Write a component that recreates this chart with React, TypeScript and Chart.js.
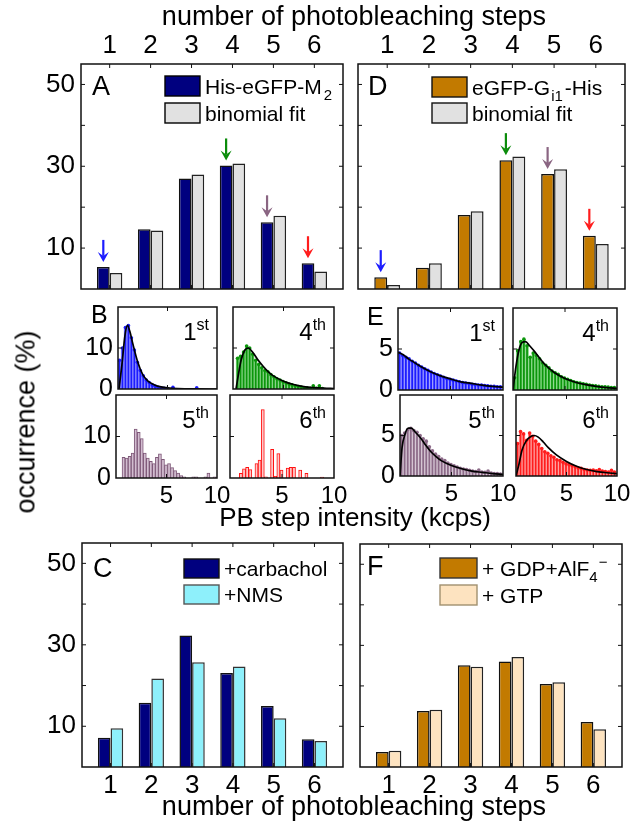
import React, { useEffect, useRef } from 'react';
import { Chart, registerables } from 'chart.js';

Chart.register(...registerables);

const FONT = '"Liberation Sans", Arial, Helvetica, sans-serif';
Chart.defaults.font.family = FONT;
Chart.defaults.color = '#000';

// ---------- step-count bar panels (A, D, C, F) ----------
const STEPS = [1, 2, 3, 4, 5, 6];
const BAR_Y_TICKS = [0, 10, 20, 30, 40, 50];
const BAR_Y_LABELS = [10, 30, 50];

const M2_MEASURED = [5.4, 14.6, 27.0, 30.2, 16.3, 6.3];
const M2_BINOMIAL = [3.9, 14.3, 28.0, 30.7, 17.9, 4.3];
const GI1_MEASURED = [2.9, 5.2, 18.1, 31.5, 28.1, 13.0];
const GI1_BINOMIAL = [1.0, 6.3, 19.0, 32.4, 29.3, 11.0];
const CARBACHOL = [7.2, 15.8, 32.3, 23.1, 15.0, 6.8];
const NMS = [9.5, 21.7, 25.7, 24.7, 12.0, 6.4];
const GDP_ALF4 = [3.7, 13.8, 25.1, 26.0, 20.5, 11.1];
const GTP = [4.0, 14.1, 24.7, 27.1, 20.9, 9.3];

const ARROW_STEPS = [1, 4, 5, 6];
const ARROW_COLORS = ['#1c1cff', '#0b8c0b', '#8a6582', '#ff1c1c'];

// ---------- PB step intensity histograms (B, E) ----------
const BIN_CENTERS = [0.15, 0.45, 0.75, 1.05, 1.35, 1.65, 1.95, 2.25, 2.55, 2.85, 3.15, 3.45, 3.75, 4.05, 4.35, 4.65, 4.95, 5.25, 5.55, 5.85, 6.15, 6.45, 6.75, 7.05, 7.35, 7.65, 7.95, 8.25, 8.55, 8.85, 9.15, 9.45, 9.75];
const HIST_X_TICKS = [5, 10];
const B_Y_TICKS = [0, 10, 20];
const E_Y_TICKS = [0, 5, 10];

const B_1ST = [7, 10, 15, 15.5, 12.5, 9.5, 6.5, 4.5, 3.2, 2.2, 1.6, 1.0, 0.7, 0.4, 0.3, 0.2, 0.1, 0, 0.4, 0, 0, 0, 0, 0, 0, 0, 0.3, 0, 0, 0, 0, 0, 0];
const B_4TH = [0, 7.5, 8, 9, 10.5, 10, 8.5, 7, 6, 5.2, 4.5, 4.2, 3.5, 3, 2.5, 2.2, 1.8, 1.5, 1.2, 1, 0.8, 0.6, 0.5, 0.3, 0.3, 0.2, 0.8, 0.2, 0.8, 0.1, 0, 0, 0];
const B_5TH = [0, 0, 5, 4.8, 5.2, 6, 11.8, 11, 9.5, 6, 4.8, 4, 3.5, 5, 5.8, 4.5, 3.2, 3.5, 2.5, 1.8, 1.2, 0.6, 0.3, 0, 0, 0.3, 0.3, 0, 0, 0.3, 1.2, 0, 0.3];
const B_6TH = [0, 0, 0, 1.1, 2.2, 2.6, 2, 0, 3.5, 4.3, 16.5, 0.3, 0, 6.9, 0.4, 5.9, 1.9, 0, 2.4, 2.6, 2.6, 0, 1.9, 0, 1.1, 0, 0, 0, 0, 0.2, 0, 0, 0];
const E_1ST = [4.5, 4.2, 4.0, 3.8, 3.5, 3.3, 3.0, 2.8, 2.6, 2.4, 2.2, 2.0, 1.85, 1.7, 1.55, 1.4, 1.3, 1.2, 1.1, 1.0, 0.9, 0.85, 0.8, 0.7, 0.65, 0.6, 0.6, 0.55, 0.5, 0.45, 0.45, 0.4, 0.4];
const E_4TH = [1.5, 4.8, 5.9, 6.2, 5.4, 4.0, 4.5, 4.2, 3.8, 3.3, 3.0, 2.7, 2.3, 2.1, 1.9, 1.6, 1.45, 1.3, 1.15, 1.0, 0.9, 0.85, 0.75, 0.7, 0.6, 0.55, 0.5, 0.45, 0.4, 0.4, 0.35, 0.3, 0.3];
const E_5TH = [5.0, 5.3, 5.7, 5.9, 5.6, 5.4, 5.0, 4.6, 4.3, 3.6, 3.1, 2.7, 2.4, 2.1, 1.9, 1.6, 1.4, 1.25, 1.1, 0.95, 0.85, 0.8, 0.7, 0.6, 0.55, 0.75, 0.5, 0.45, 0.6, 0.35, 0.3, 0.3, 0.25];
const E_6TH = [4.0, 5.5, 5.2, 4.4, 5.3, 4.9, 4.3, 3.9, 3.4, 3.0, 2.8, 2.5, 2.3, 2.0, 1.9, 1.7, 1.5, 1.4, 1.3, 1.15, 1.0, 0.95, 0.8, 0.75, 0.7, 0.75, 0.65, 0.8, 0.6, 0.55, 0.5, 0.7, 0.5];

const FIT_B_1ST_X = [0.1, 0.4, 0.7, 0.95, 1.2, 1.5, 2, 2.5, 3, 3.5, 4, 5, 6, 7, 8, 10];
const FIT_B_1ST_Y = [0, 6, 13, 15.5, 14, 11, 6.5, 3.5, 2, 1.2, 0.7, 0.3, 0.1, 0.05, 0.02, 0];
const FIT_B_4TH_X = [0.3, 0.5, 0.8, 1.1, 1.5, 2, 2.5, 3, 3.5, 4, 5, 6, 7, 8, 9, 10];
const FIT_B_4TH_Y = [0, 3, 7, 9.2, 10, 8.8, 7, 5.5, 4.2, 3.2, 1.9, 1.1, 0.6, 0.35, 0.2, 0.1];
const FIT_E_1ST_X = [0, 0.5, 1, 1.5, 2, 3, 4, 5, 6, 7, 8, 9, 10];
const FIT_E_1ST_Y = [4.6, 4.3, 3.8, 3.4, 3.0, 2.3, 1.75, 1.35, 1.0, 0.8, 0.6, 0.45, 0.35];
const FIT_E_4TH_X = [0, 0.3, 0.6, 0.9, 1.2, 1.6, 2, 2.5, 3, 3.5, 4, 5, 6, 7, 8, 9, 10];
const FIT_E_4TH_Y = [0, 3.0, 5.0, 5.8, 5.9, 5.4, 4.8, 4.0, 3.2, 2.6, 2.1, 1.4, 0.95, 0.65, 0.45, 0.3, 0.2];
const FIT_E_5TH_X = [0, 0.2, 0.5, 0.8, 1.1, 1.5, 2, 2.5, 3, 3.5, 4, 5, 6, 7, 8, 9, 10];
const FIT_E_5TH_Y = [0, 3.5, 5.2, 5.9, 5.9, 5.4, 4.7, 3.8, 3.0, 2.4, 1.9, 1.3, 0.9, 0.6, 0.45, 0.3, 0.2];
const FIT_E_6TH_X = [0, 0.3, 0.6, 1, 1.5, 1.8, 2.2, 2.7, 3.2, 4, 5, 6, 7, 8, 9, 10];
const FIT_E_6TH_Y = [0, 1.5, 3.2, 4.3, 4.9, 5.0, 4.8, 4.2, 3.5, 2.6, 1.8, 1.2, 0.8, 0.55, 0.4, 0.3];

// ---------- colours ----------
const NAVY = '#00007f';
const GRAY = '#e1e1e1';
const ORANGE = '#c27a00';
const CYAN = '#8ef0fb';
const PEACH = '#fde3c0';
const BLUE = '#1c1cff';
const GREEN = '#0b960b';
const MAUVE = '#8c6a88';
const RED = '#ff1c1c';

type Part = { t: string; sub?: boolean; sup?: boolean; gap?: number };

function drawRich(ctx: CanvasRenderingContext2D, parts: Part[], x: number, y: number, size: number, align: 'left' | 'right' = 'left', small = 0.7) {
  const fontOf = (p: Part) => `${p.sub || p.sup ? Math.round(size * small) : size}px ${FONT}`;
  let total = 0;
  for (const p of parts) {
    ctx.font = fontOf(p);
    total += (p.gap || 0) + ctx.measureText(p.t).width;
  }
  let cx = align === 'right' ? x - total : x;
  ctx.textAlign = 'left';
  ctx.textBaseline = 'alphabetic';
  for (const p of parts) {
    ctx.font = fontOf(p);
    cx += p.gap || 0;
    const dy = p.sub ? size * 0.3 : p.sup ? -size * 0.42 : 0;
    ctx.fillText(p.t, cx, y + dy);
    cx += ctx.measureText(p.t).width;
  }
}

function makeDecor(spec: any) {
  return {
    id: 'decor',
    afterDatasetsDraw(chart: any) {
      const ctx: CanvasRenderingContext2D = chart.ctx;
      const a = chart.chartArea;
      ctx.save();
      // arrows over selected bars
      if (spec.arrows) {
        const meta = chart.getDatasetMeta(0);
        ARROW_STEPS.forEach((st, k) => {
          const el = meta.data[STEPS.indexOf(st)];
          if (!el) return;
          const x = el.x;
          const tip = el.y - 5;
          const tail = tip - 22;
          ctx.strokeStyle = ARROW_COLORS[k];
          ctx.fillStyle = ARROW_COLORS[k];
          ctx.lineWidth = 2.2;
          ctx.beginPath();
          ctx.moveTo(x, tail);
          ctx.lineTo(x, tip - 6);
          ctx.stroke();
          ctx.beginPath();
          ctx.moveTo(x - 5.5, tip - 10);
          ctx.lineTo(x, tip);
          ctx.lineTo(x + 5.5, tip - 10);
          ctx.lineTo(x, tip - 6);
          ctx.closePath();
          ctx.fill();
        });
      }
      // frame
      ctx.strokeStyle = '#111';
      ctx.lineWidth = 1.5;
      ctx.strokeRect(a.left, a.top, a.right - a.left, a.bottom - a.top);
      // inward ticks
      const len = spec.tickLen || 4;
      ctx.lineWidth = 1;
      const xs = chart.scales.x;
      const ys = chart.scales.y;
      ctx.beginPath();
      (ys.ticks || []).forEach((t: any) => {
        const y = ys.getPixelForValue(t.value);
        if (y < a.top + 1 || y > a.bottom - 1) return;
        ctx.moveTo(a.left, y); ctx.lineTo(a.left + len, y);
        ctx.moveTo(a.right - len, y); ctx.lineTo(a.right, y);
      });
      (xs.ticks || []).forEach((t: any) => {
        const x = xs.getPixelForValue(t.value);
        if (x < a.left + 1 || x > a.right - 1) return;
        ctx.moveTo(x, a.top); ctx.lineTo(x, a.top + len);
        ctx.moveTo(x, a.bottom - len); ctx.lineTo(x, a.bottom);
      });
      ctx.stroke();
      ctx.fillStyle = '#000';
      // panel letter
      if (spec.letter) {
        ctx.font = `${spec.letter.size}px ${FONT}`;
        ctx.textAlign = 'left';
        ctx.textBaseline = 'alphabetic';
        ctx.fillText(spec.letter.text, a.left + spec.letter.dx, a.top + spec.letter.dy);
      }
      // legend
      if (spec.legend) {
        const L = spec.legend;
        L.items.forEach((it: any, i: number) => {
          const bx = a.left + L.dx;
          const by = a.top + L.dy + i * L.step;
          ctx.fillStyle = it.fill;
          ctx.fillRect(bx, by, L.w, L.h);
          ctx.strokeStyle = it.stroke;
          ctx.lineWidth = 1.4;
          ctx.strokeRect(bx, by, L.w, L.h);
          ctx.fillStyle = '#000';
          drawRich(ctx, it.parts, bx + L.w + 5, by + L.h / 2 + L.size * 0.36, L.size);
        });
      }
      // ordinal label (1st, 4th ...)
      if (spec.ordinal) {
        ctx.fillStyle = '#000';
        drawRich(ctx, [{ t: spec.ordinal[0] }, { t: spec.ordinal[1], sup: true }], a.right - 8, a.top + 33, 24, 'right', 0.68);
      }
      ctx.restore();
    },
  };
}

type Rect = { l: number; t: number; r: number; b: number };

function xAxis(o: { min: number; max: number; ticks: number[]; pos: 'top' | 'bottom'; show: boolean; size: number; font: number; pad: number }) {
  const ax: any = {
    type: 'linear',
    position: o.pos,
    min: o.min,
    max: o.max,
    offset: false,
    display: o.show,
    grid: { display: false, drawTicks: false, offset: false },
    border: { display: false },
    afterBuildTicks: (s: any) => { s.ticks = o.ticks.map((v) => ({ value: v })); },
    ticks: { font: { size: o.font, family: FONT }, color: '#000', padding: o.pad, maxRotation: 0, autoSkip: false, callback: (v: any) => String(v) },
  };
  if (o.show) ax.afterFit = (s: any) => { s.height = o.size; };
  return ax;
}

function yAxis(o: { min: number; max: number; ticks: number[]; labels: number[] | null; size: number; font: number; pad: number }) {
  const show = !!o.labels;
  const ax: any = {
    type: 'linear',
    min: o.min,
    max: o.max,
    display: show,
    grid: { display: false, drawTicks: false },
    border: { display: false },
    afterBuildTicks: (s: any) => { s.ticks = o.ticks.map((v) => ({ value: v })); },
    ticks: { font: { size: o.font, family: FONT }, color: '#000', padding: o.pad, autoSkip: false, callback: (v: any) => (o.labels && o.labels.includes(v) ? String(v) : '') },
  };
  if (show) ax.afterFit = (s: any) => { s.width = o.size; };
  return ax;
}

function baseOptions(m: Rect, yShown: boolean, xPos: 'top' | 'bottom', xShown: boolean) {
  return {
    animation: false,
    responsive: false,
    devicePixelRatio: 1,
    events: [],
    layout: {
      padding: {
        left: yShown ? 0 : m.l,
        right: m.r,
        top: xShown && xPos === 'top' ? 0 : m.t,
        bottom: xShown && xPos === 'bottom' ? 0 : m.b,
      },
    },
    plugins: { legend: { display: false }, tooltip: { enabled: false }, title: { display: false } },
  };
}

function barConfig(p: any) {
  const opts: any = baseOptions(p.m, p.yShown, p.xPos, true);
  opts.scales = {
    x: xAxis({ min: 0.3, max: 6.7, ticks: STEPS, pos: p.xPos, show: true, size: p.xPos === 'top' ? p.m.t : p.m.b, font: 26, pad: 3 }),
    y: yAxis({ min: 0, max: 55, ticks: BAR_Y_TICKS, labels: p.yShown ? BAR_Y_LABELS : null, size: p.m.l, font: 26, pad: 6 }),
  };
  const ds = (vals: number[], fill: string, stroke: string) => ({
    type: 'bar',
    data: STEPS.map((x, i) => ({ x, y: vals[i] })),
    backgroundColor: fill,
    borderColor: stroke,
    borderWidth: 1.5,
    categoryPercentage: 0.62,
    barPercentage: 1,
  });
  return {
    type: 'bar',
    data: { datasets: [ds(p.s1, p.c1, '#111'), ds(p.s2, p.c2, p.stroke2 || '#222')] },
    options: opts,
    plugins: [makeDecor(p)],
  };
}

function histConfig(p: any) {
  const opts: any = baseOptions(p.m, p.yShown, 'bottom', p.xShown);
  opts.scales = {
    x: xAxis({ min: 0, max: 10, ticks: HIST_X_TICKS, pos: 'bottom', show: p.xShown, size: p.m.b, font: 24, pad: 4 }),
    y: yAxis({ min: 0, max: p.ymax, ticks: p.yTicks, labels: p.yShown ? p.yTicks.slice(0, 2) : null, size: p.m.l, font: 25, pad: 5 }),
  };
  const datasets: any[] = [];
  if (p.fitX) {
    datasets.push({
      type: 'line', order: 0,
      data: p.fitX.map((x: number, i: number) => ({ x, y: p.fitY[i] })),
      borderColor: '#000', borderWidth: 1.7, pointRadius: 0, fill: false, cubicInterpolationMode: 'monotone',
    });
  }
  if (p.dots) {
    datasets.push({
      type: 'line', order: 1,
      data: BIN_CENTERS.map((x, i) => ({ x, y: p.bins[i] })).filter((d) => d.y > 0),
      showLine: false, pointRadius: 1.8, pointBackgroundColor: p.color, pointBorderWidth: 0,
    });
  }
  datasets.push({
    type: 'bar', order: 2,
    data: BIN_CENTERS.map((x, i) => ({ x, y: p.bins[i] })),
    backgroundColor: p.fill,
    borderColor: p.edge,
    borderWidth: p.edgeW || 1,
    categoryPercentage: 1,
    barPercentage: 1,
  });
  return { type: 'bar', data: { datasets }, options: opts, plugins: [makeDecor(p)] };
}

function ChartCanvas({ frame, m, config }: { frame: Rect; m: Rect; config: () => any }) {
  const ref = useRef<HTMLCanvasElement>(null);
  const w = frame.r - frame.l + m.l + m.r;
  const h = frame.b - frame.t + m.t + m.b;
  useEffect(() => {
    const chart = new Chart(ref.current as HTMLCanvasElement, config());
    return () => chart.destroy();
  }, []);
  return (
    <canvas
      ref={ref}
      width={w}
      height={h}
      style={{ position: 'absolute', left: frame.l - m.l, top: frame.t - m.t, width: w, height: h }}
    />
  );
}

const BAR_PANELS = [
  {
    key: 'A', frame: { l: 81, t: 64, r: 343, b: 289 }, m: { l: 60, t: 40, r: 4, b: 26 }, yShown: true, xPos: 'top',
    s1: M2_MEASURED, s2: M2_BINOMIAL, c1: NAVY, c2: GRAY, arrows: true,
    letter: { text: 'A', dx: 11, dy: 31, size: 27 },
    legend: { dx: 84, dy: 12, w: 35, h: 20, step: 27, size: 21, items: [
      { fill: NAVY, stroke: '#000', parts: [{ t: 'His-eGFP-M' }, { t: '2', sub: true, gap: 2 }] },
      { fill: GRAY, stroke: '#000', parts: [{ t: 'binomial fit' }] },
    ] },
  },
  {
    key: 'D', frame: { l: 358, t: 64, r: 625, b: 289 }, m: { l: 4, t: 40, r: 4, b: 4 }, yShown: false, xPos: 'top',
    s1: GI1_MEASURED, s2: GI1_BINOMIAL, c1: ORANGE, c2: GRAY, arrows: true,
    letter: { text: 'D', dx: 10, dy: 31, size: 27 },
    legend: { dx: 74, dy: 13, w: 35, h: 20, step: 26, size: 21, items: [
      { fill: ORANGE, stroke: '#111', parts: [{ t: 'eGFP-G' }, { t: 'i1', sub: true, gap: 1 }, { t: '-His', gap: 2 }] },
      { fill: GRAY, stroke: '#111', parts: [{ t: 'binomial fit' }] },
    ] },
  },
  {
    key: 'C', frame: { l: 82, t: 543, r: 343, b: 767 }, m: { l: 61, t: 26, r: 4, b: 40 }, yShown: true, xPos: 'bottom',
    s1: CARBACHOL, s2: NMS, c1: NAVY, c2: CYAN, stroke2: '#333',
    letter: { text: 'C', dx: 11, dy: 34, size: 27 },
    legend: { dx: 102, dy: 16, w: 35, h: 19, step: 26, size: 21, items: [
      { fill: NAVY, stroke: '#111', parts: [{ t: '+carbachol' }] },
      { fill: CYAN, stroke: '#555', parts: [{ t: '+NMS' }] },
    ] },
  },
  {
    key: 'F', frame: { l: 360, t: 544, r: 622, b: 767 }, m: { l: 4, t: 4, r: 4, b: 40 }, yShown: false, xPos: 'bottom',
    s1: GDP_ALF4, s2: GTP, c1: ORANGE, c2: PEACH, stroke2: '#222',
    letter: { text: 'F', dx: 7, dy: 31, size: 27 },
    legend: { dx: 80, dy: 14, w: 37, h: 20, step: 27, size: 21, items: [
      { fill: ORANGE, stroke: '#333', parts: [{ t: '+ GDP+AlF' }, { t: '4', sub: true }, { t: '\u2212', sup: true, gap: 1 }] },
      { fill: PEACH, stroke: '#a09070', parts: [{ t: '+ GTP' }] },
    ] },
  },
];

const HIST_PANELS = [
  { key: 'B1', frame: { l: 118, t: 307, r: 217, b: 389 }, m: { l: 40, t: 26, r: 4, b: 26 }, yShown: true, xShown: false, ymax: 20, yTicks: B_Y_TICKS,
    bins: B_1ST, color: BLUE, fill: BLUE, edge: '#8a8aff', dots: true, fitX: FIT_B_1ST_X, fitY: FIT_B_1ST_Y, ordinal: ['1', 'st'],
    letter: { text: 'B', dx: -27, dy: 16, size: 25 } },
  { key: 'B4', frame: { l: 233, t: 307, r: 334, b: 389 }, m: { l: 4, t: 4, r: 4, b: 4 }, yShown: false, xShown: false, ymax: 20, yTicks: B_Y_TICKS,
    bins: B_4TH, color: GREEN, fill: GREEN, edge: '#7fd07f', dots: true, fitX: FIT_B_4TH_X, fitY: FIT_B_4TH_Y, ordinal: ['4', 'th'] },
  { key: 'B5', frame: { l: 116, t: 395, r: 217, b: 478 }, m: { l: 40, t: 26, r: 22, b: 36 }, yShown: true, xShown: true, ymax: 20, yTicks: B_Y_TICKS,
    bins: B_5TH, color: MAUVE, fill: '#d2bdd0', edge: '#7e5878', edgeW: 1, dots: false, ordinal: ['5', 'th'] },
  { key: 'B6', frame: { l: 230, t: 395, r: 334, b: 478 }, m: { l: 4, t: 4, r: 22, b: 36 }, yShown: false, xShown: true, ymax: 20, yTicks: B_Y_TICKS,
    bins: B_6TH, color: RED, fill: '#ffc8c8', edge: '#ff1010', edgeW: 1, dots: false, ordinal: ['6', 'th'] },
  { key: 'E1', frame: { l: 398, t: 308, r: 503, b: 390 }, m: { l: 40, t: 26, r: 4, b: 26 }, yShown: true, xShown: false, ymax: 10, yTicks: E_Y_TICKS,
    bins: E_1ST, color: BLUE, fill: BLUE, edge: '#9a9aff', dots: true, fitX: FIT_E_1ST_X, fitY: FIT_E_1ST_Y, ordinal: ['1', 'st'],
    letter: { text: 'E', dx: -31, dy: 17, size: 25 } },
  { key: 'E4', frame: { l: 513, t: 308, r: 617, b: 390 }, m: { l: 4, t: 4, r: 4, b: 4 }, yShown: false, xShown: false, ymax: 10, yTicks: E_Y_TICKS,
    bins: E_4TH, color: GREEN, fill: GREEN, edge: '#88d888', dots: true, fitX: FIT_E_4TH_X, fitY: FIT_E_4TH_Y, ordinal: ['4', 'th'] },
  { key: 'E5', frame: { l: 400, t: 395, r: 503, b: 476 }, m: { l: 40, t: 26, r: 22, b: 36 }, yShown: true, xShown: true, ymax: 10, yTicks: E_Y_TICKS,
    bins: E_5TH, color: MAUVE, fill: MAUVE, edge: '#d4c4d2', dots: true, fitX: FIT_E_5TH_X, fitY: FIT_E_5TH_Y, ordinal: ['5', 'th'] },
  { key: 'E6', frame: { l: 516, t: 395, r: 617, b: 476 }, m: { l: 4, t: 4, r: 22, b: 36 }, yShown: false, xShown: true, ymax: 10, yTicks: E_Y_TICKS,
    bins: E_6TH, color: RED, fill: RED, edge: '#ff9c9c', dots: true, fitX: FIT_E_6TH_X, fitY: FIT_E_6TH_Y, ordinal: ['6', 'th'] },
];

const labelStyle: any = {
  position: 'absolute',
  fontFamily: FONT,
  color: '#000',
  whiteSpace: 'nowrap',
};

export default function App() {
  return (
    <div style={{ position: 'absolute', left: 0, top: 0, width: 632, height: 822, overflow: 'hidden', background: '#fff' }}>
      {BAR_PANELS.map((p) => (
        <ChartCanvas key={p.key} frame={p.frame} m={p.m} config={() => barConfig(p)} />
      ))}
      {HIST_PANELS.map((p) => (
        <ChartCanvas key={p.key} frame={p.frame} m={p.m} config={() => histConfig(p)} />
      ))}
      <div style={{ ...labelStyle, left: 0, width: 708, textAlign: 'center', top: 3, fontSize: 27, lineHeight: '27px' }}>
        number of photobleaching steps
      </div>
      <div style={{ ...labelStyle, left: 0, width: 708, textAlign: 'center', top: 793, fontSize: 27, lineHeight: '27px' }}>
        number of photobleaching steps
      </div>
      <div style={{ ...labelStyle, left: 0, width: 710, textAlign: 'center', top: 504, fontSize: 26, lineHeight: '26px' }}>
        PB step intensity (kcps)
      </div>
      <div
        style={{
          ...labelStyle,
          left: 26,
          top: 422,
          fontSize: 27,
          lineHeight: '27px',
          transform: 'translate(-50%, -50%) rotate(-90deg)',
        }}
      >
        occurrence (%)
      </div>
    </div>
  );
}
